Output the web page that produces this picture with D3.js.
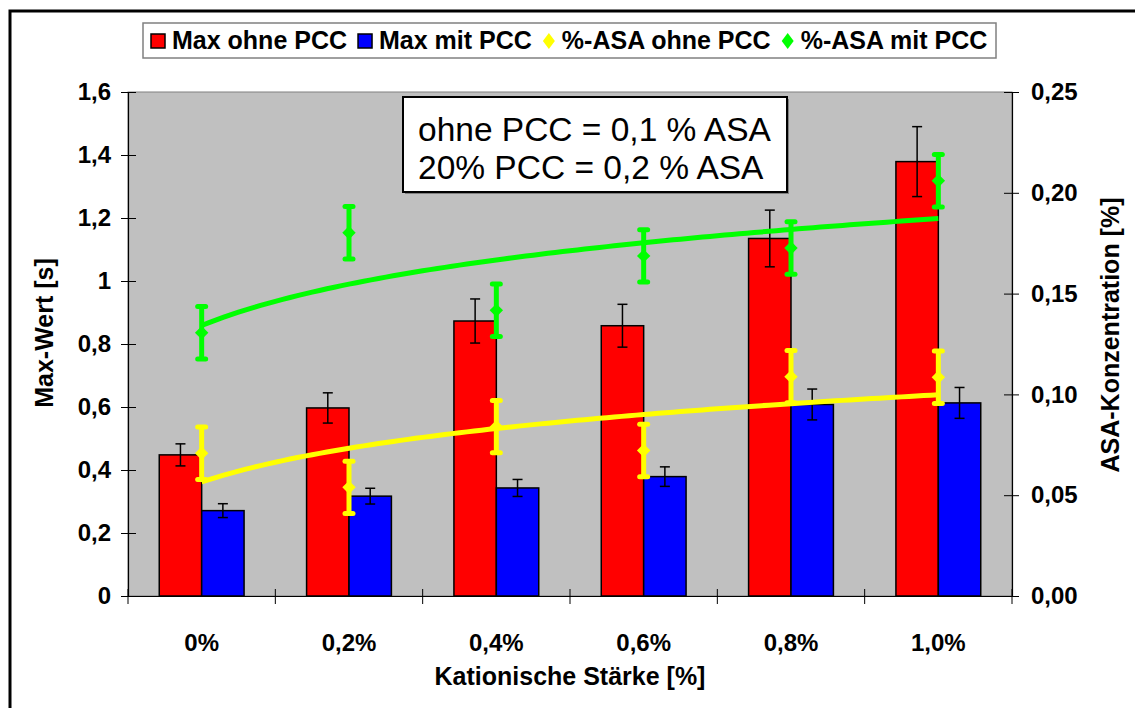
<!DOCTYPE html>
<html>
<head>
<meta charset="utf-8">
<script src="https://cdn.jsdelivr.net/npm/d3@7"></script>
<style>
  body { margin: 0; background: #fff; }
  svg text { font-family: "Liberation Sans", Arial, sans-serif; }
</style>
</head>
<body>
<svg id="chart" width="1135" height="708"></svg>
<script>
'use strict'

const categories = ['0%', '0,2%', '0,4%', '0,6%', '0,8%', '1,0%']
const maxOhne = [0.448, 0.597, 0.873, 0.858, 1.135, 1.379]
const maxOhneErr = [0.035, 0.048, 0.070, 0.068, 0.090, 0.111]
const maxMit = [0.271, 0.317, 0.343, 0.379, 0.608, 0.613]
const maxMitErr = [0.022, 0.025, 0.027, 0.031, 0.049, 0.049]
const asaOhne = [0.0708, 0.0539, 0.0840, 0.0722, 0.1088, 0.1085]
const asaOhneErr = [0.013, 0.013, 0.013, 0.013, 0.013, 0.013]
const asaMit = [0.1306, 0.1802, 0.1417, 0.1687, 0.1726, 0.2060]
const asaMitErr = [0.013, 0.013, 0.013, 0.013, 0.013, 0.013]
const leftTicks = [0, 0.2, 0.4, 0.6, 0.8, 1, 1.2, 1.4, 1.6]
const rightTicks = [0, 0.05, 0.10, 0.15, 0.20, 0.25]
const legendLabels = ['Max ohne PCC', 'Max mit PCC', '%-ASA ohne PCC', '%-ASA mit PCC']
const noteLines = ['ohne PCC = 0,1 % ASA', '20% PCC = 0,2 % ASA']

const svg = d3.select('#chart')
const pLeft = 128, pRight = 1012, pTop = 92, pBottom = 596

// outer frame (right/bottom run off the picture)
svg.append('rect')
  .attr('x', 10).attr('y', 11)
  .attr('width', 1140).attr('height', 710)
  .attr('fill', '#fff').attr('stroke', '#000').attr('stroke-width', 3)

const x0 = d3.scaleBand().domain(categories).range([pLeft, pRight])
const x1 = d3.scaleBand().domain(['ohne', 'mit']).range([0, x0.bandwidth()]).paddingOuter(0.737)
const yL = d3.scaleLinear().domain([0, 1.6]).range([pBottom, pTop])
const yR = d3.scaleLinear().domain([0, 0.25]).range([pBottom, pTop])
const xc = d => x0(d) + x0.bandwidth() / 2
// fractional category position -> pixel, for the trend curves
const xIdx = d3.scaleLinear().domain([0, categories.length - 1])
  .range([xc(categories[0]), xc(categories[categories.length - 1])])

svg.append('rect')
  .attr('x', pLeft).attr('y', pTop)
  .attr('width', pRight - pLeft).attr('height', pBottom - pTop)
  .attr('fill', '#c0c0c0').attr('stroke', '#808080').attr('stroke-width', 1)

// bars
const barSeries = [
  { key: 'ohne', vals: maxOhne, err: maxOhneErr, color: '#ff0000' },
  { key: 'mit', vals: maxMit, err: maxMitErr, color: '#0000ff' }
]
barSeries.forEach(s => {
  const g = svg.append('g')
  g.selectAll('rect').data(categories).enter().append('rect')
    .attr('x', (c) => x0(c) + x1(s.key))
    .attr('y', (c, i) => yL(s.vals[i]))
    .attr('width', x1.bandwidth())
    .attr('height', (c, i) => pBottom - yL(s.vals[i]))
    .attr('fill', s.color).attr('stroke', '#000').attr('stroke-width', 1.5)
})
barSeries.forEach(s => {
  const g = svg.append('g').attr('stroke', '#000').attr('stroke-width', 1.5)
  categories.forEach((c, i) => {
    const cx = x0(c) + x1(s.key) + x1.bandwidth() / 2
    const hi = yL(s.vals[i] + s.err[i]), lo = yL(s.vals[i] - s.err[i])
    g.append('line').attr('x1', cx).attr('x2', cx).attr('y1', hi).attr('y2', lo)
    g.append('line').attr('x1', cx - 5).attr('x2', cx + 5).attr('y1', hi).attr('y2', hi)
    g.append('line').attr('x1', cx - 5).attr('x2', cx + 5).attr('y1', lo).attr('y2', lo)
  })
})

// axes
const axL = svg.append('g').attr('transform', `translate(${pLeft},0)`)
  .call(d3.axisLeft(yL).tickValues(leftTicks).tickSize(7).tickPadding(10)
    .tickFormat(d => d3.format('.1~f')(d).replace('.', ',')))
axL.selectAll('.tick line').attr('x1', 8)
const axR = svg.append('g').attr('transform', `translate(${pRight},0)`)
  .call(d3.axisRight(yR).tickValues(rightTicks).tickSize(7).tickPadding(12)
    .tickFormat(d => d3.format('.2f')(d).replace('.', ',')))
axR.selectAll('.tick line').attr('x1', -8)
const axB = svg.append('g').attr('transform', `translate(0,${pBottom})`)
  .call(d3.axisBottom(x0).tickSize(0).tickPadding(38))
axB.selectAll('.tick line').remove()
axB.selectAll('.sep').data(d3.range(categories.length + 1)).enter().append('line')
  .attr('x1', i => pLeft + i * x0.step()).attr('x2', i => pLeft + i * x0.step())
  .attr('y1', -7).attr('y2', 8).attr('stroke', '#000')
;[axL, axR, axB].forEach(a => {
  a.selectAll('.domain').attr('stroke', '#000').attr('stroke-width', 1.2)
  a.selectAll('text').attr('font-size', 24).attr('font-weight', 'bold').attr('fill', '#000')
    .style('font-family', '"Liberation Sans", Arial, sans-serif')
})

// log trendlines (least squares on ln(x), as Excel does)
function logFit (vals) {
  const lx = vals.map((v, i) => Math.log(i + 1))
  const mx = d3.mean(lx), my = d3.mean(vals)
  const a = d3.sum(lx, (l, i) => (l - mx) * (vals[i] - my)) / d3.sum(lx, l => (l - mx) ** 2)
  return t => a * Math.log(t + 1) + my - a * mx
}
const asaSeries = [
  { vals: asaOhne, err: asaOhneErr, color: '#ffff00' },
  { vals: asaMit, err: asaMitErr, color: '#00ff00' }
]
asaSeries.forEach(s => {
  const f = logFit(s.vals)
  const ts = d3.range(0, categories.length - 1 + 0.001, 0.05)
  svg.append('path')
    .attr('d', d3.line().x(t => xIdx(t)).y(t => yR(f(t)))(ts))
    .attr('fill', 'none').attr('stroke', s.color).attr('stroke-width', 5)
})
const diamond = d3.symbol(d3.symbolSquare, 90)
asaSeries.forEach(s => {
  const g = svg.append('g')
  categories.forEach((c, i) => {
    const cx = xc(c)
    const hi = yR(s.vals[i] + s.err[i]), lo = yR(s.vals[i] - s.err[i])
    g.append('line').attr('x1', cx).attr('x2', cx).attr('y1', hi).attr('y2', lo)
      .attr('stroke', s.color).attr('stroke-width', 5)
    ;[hi, lo].forEach(yy => g.append('line')
      .attr('x1', cx - 4).attr('x2', cx + 4).attr('y1', yy).attr('y2', yy)
      .attr('stroke', s.color).attr('stroke-width', 5).attr('stroke-linecap', 'round'))
    g.append('path').attr('d', diamond)
      .attr('transform', `translate(${cx},${yR(s.vals[i])}) rotate(45)`)
      .attr('fill', s.color)
  })
})

// axis titles
svg.append('text').attr('x', (pLeft + pRight) / 2).attr('y', 685)
  .attr('text-anchor', 'middle').attr('font-size', 25).attr('font-weight', 'bold')
  .text('Kationische Stärke [%]')
svg.append('text').attr('transform', 'translate(53,333) rotate(-90)')
  .attr('text-anchor', 'middle').attr('font-size', 25).attr('font-weight', 'bold')
  .text('Max-Wert [s]')
svg.append('text').attr('transform', 'translate(1119,335) rotate(-90)')
  .attr('text-anchor', 'middle').attr('font-size', 25).attr('font-weight', 'bold')
  .text('ASA-Konzentration [%]')

// note box
svg.append('rect').attr('x', 405).attr('y', 99).attr('width', 384).attr('height', 95).attr('fill', '#808080')
svg.append('rect').attr('x', 403).attr('y', 97).attr('width', 384).attr('height', 95)
  .attr('fill', '#fff').attr('stroke', '#000').attr('stroke-width', 2)
svg.selectAll('.note').data(noteLines).enter().append('text')
  .attr('x', 418).attr('y', (d, i) => 141 + i * 38)
  .attr('font-size', 33.5).text(d => d)

// legend
const leg = svg.append('g')
leg.append('rect').attr('x', 143).attr('y', 23).attr('width', 853).attr('height', 35)
  .attr('fill', '#fff').attr('stroke', '#808080').attr('stroke-width', 1.5)
const legColors = ['#ff0000', '#0000ff', '#ffff00', '#00ff00']
let lx = 151
legendLabels.forEach((lab, i) => {
  if (i < 2) {
    leg.append('rect').attr('x', lx).attr('y', 34).attr('width', 14).attr('height', 14)
      .attr('fill', legColors[i]).attr('stroke', '#000').attr('stroke-width', 1.5)
    lx += 21
  } else {
    leg.append('path').attr('d', 'M0,-8L6,0L0,8L-6,0Z')
      .attr('transform', `translate(${lx + 6},41)`).attr('fill', legColors[i])
    lx += 19
  }
  const t = leg.append('text').attr('x', lx).attr('y', 49)
    .attr('font-size', 25).attr('font-weight', 'bold').text(lab)
  lx += t.node().getComputedTextLength() + 11
})
</script>
</body>
</html>
